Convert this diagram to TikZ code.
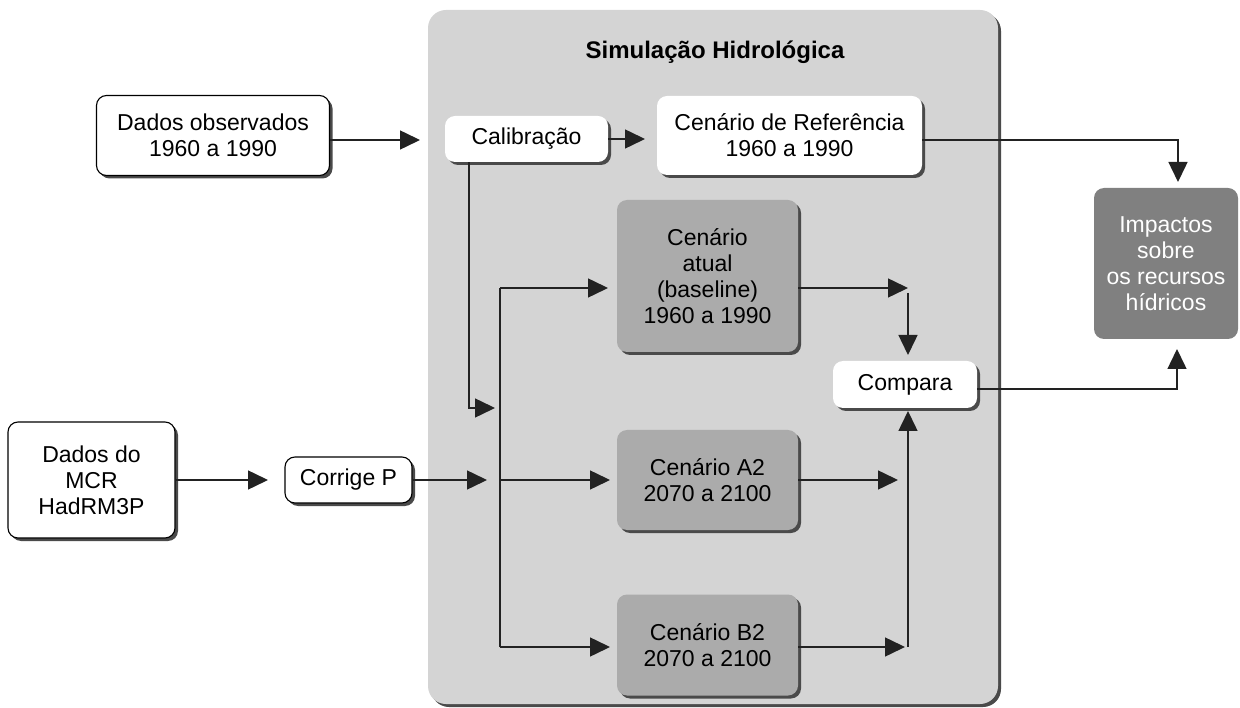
\documentclass[tikz,border=0pt]{standalone}
\usepackage{fontspec}
\setmainfont{Liberation Sans}
\usetikzlibrary{arrows.meta,shadows,calc}
\definecolor{panelgray}{HTML}{D4D4D4}
\definecolor{midgray}{HTML}{ABABAB}
\definecolor{darkbox}{HTML}{808080}
\definecolor{shadowgray}{HTML}{4A4A4A}
\definecolor{arrowcol}{HTML}{222222}
\tikzset{
  base/.style={rounded corners=10pt, inner sep=0pt, align=center,
    font=\fontsize{23}{26}\selectfont,
    drop shadow={shadow xshift=3pt, shadow yshift=-3pt, fill=shadowgray, opacity=1}},
  whiteb/.style={base, fill=white, draw=black, line width=1.1pt},
  whitenb/.style={base, fill=white},
  grayb/.style={base, fill=midgray},
  conn/.style={draw=arrowcol, line width=1.5pt, -{Triangle[length=20pt,width=19pt]}},
  plain/.style={draw=arrowcol, line width=1.5pt},
}
\begin{document}
\begin{tikzpicture}[x=1pt,y=-1pt]
\useasboundingbox (0,0) rectangle (1240,708);
% panel
\node[rounded corners=18pt, fill=panelgray, minimum width=570pt, minimum height=694pt, inner sep=0pt,
  drop shadow={shadow xshift=3pt, shadow yshift=-3pt, fill=shadowgray, opacity=1}] (panel) at (713,357) {};
\node[font=\fontsize{24}{28}\selectfont\bfseries] (title) at (715,52) {Simulação Hidrológica};

\node[whiteb, minimum width=233pt, minimum height=80pt] (obs) at (213,135.5) {Dados observados\\1960 a 1990};
\node[whitenb, minimum width=163pt, minimum height=46pt] (calib) at (526.5,139) {Calibração};
\node[whitenb, minimum width=265pt, minimum height=79pt] (ref) at (789.5,135.5) {Cenário de Referência\\1960 a 1990};
\node[grayb, minimum width=181pt, minimum height=152pt] (atual) at (707.5,276) {Cenário\\atual\\(baseline)\\1960 a 1990};
\node[whitenb, minimum width=144pt, minimum height=47pt] (compara) at (905,384.5) {Compara};
\node[grayb, minimum width=181pt, minimum height=100pt] (a2) at (707.5,480) {Cenário A2\\2070 a 2100};
\node[grayb, minimum width=181pt, minimum height=101pt] (b2) at (707.5,645) {Cenário B2\\2070 a 2100};
\node[whiteb, minimum width=167pt, minimum height=116pt] (mcr) at (91.5,480) {Dados do\\MCR\\HadRM3P};
\node[whiteb, minimum width=127pt, minimum height=46pt] (corrige) at (348.5,480) {Corrige P};
\node[rounded corners=10pt, fill=darkbox, text=white, inner sep=0pt, align=center,
  font=\fontsize{23}{26}\selectfont, minimum width=144pt, minimum height=151pt] (imp) at (1166,263.5) {Impactos\\sobre\\os recursos\\hídricos};

% coordinates
\coordinate (t1) at (420,140);
\coordinate (t2) at (645,139);
\coordinate (t3) at (1178,182);
\coordinate (ca) at (469,408);
\coordinate (t4) at (495,408);
\coordinate (t5) at (268,480);
\coordinate (t6) at (487,480);
\coordinate (jtop) at (500,288);
\coordinate (jmid) at (500,480);
\coordinate (jbot) at (500,647);
\coordinate (ta) at (608,288);
\coordinate (tA2) at (610,480);
\coordinate (tB2) at (610,647);
\coordinate (oa) at (908,288);
\coordinate (oas) at (908,293);
\coordinate (tc1) at (908,355);
\coordinate (tc2) at (908,411);
\coordinate (oa2) at (898,480);
\coordinate (ob2) at (905,647);
\coordinate (vb) at (908,647);
\coordinate (ti) at (1177,349);

\draw[conn] (obs.east |- t1) -- (t1);
\draw[conn] (calib.east |- t2) -- (t2);
\draw[conn] (ref.east |- 0,140) -| (t3);
\draw[conn] (calib.south -| ca) -- (ca) -- (t4);
\draw[conn] (mcr.east) -- (t5);
\draw[conn] (corrige.east) -- (t6);
\draw[plain] (jbot) -- (jtop);
\draw[conn] (jtop) -- (ta);
\draw[conn] (jmid) -- (tA2);
\draw[conn] (jbot) -- (tB2);
\draw[conn] (atual.east |- oa) -- (oa);
\draw[conn] (oas) -- (tc1);
\draw[conn] (a2.east) -- (oa2);
\draw[conn] (b2.east |- ob2) -- (ob2);
\draw[conn] (vb) -- (tc2);
\draw[conn] (compara.east |- 0,389) -| (ti);
\end{tikzpicture}
\end{document}
